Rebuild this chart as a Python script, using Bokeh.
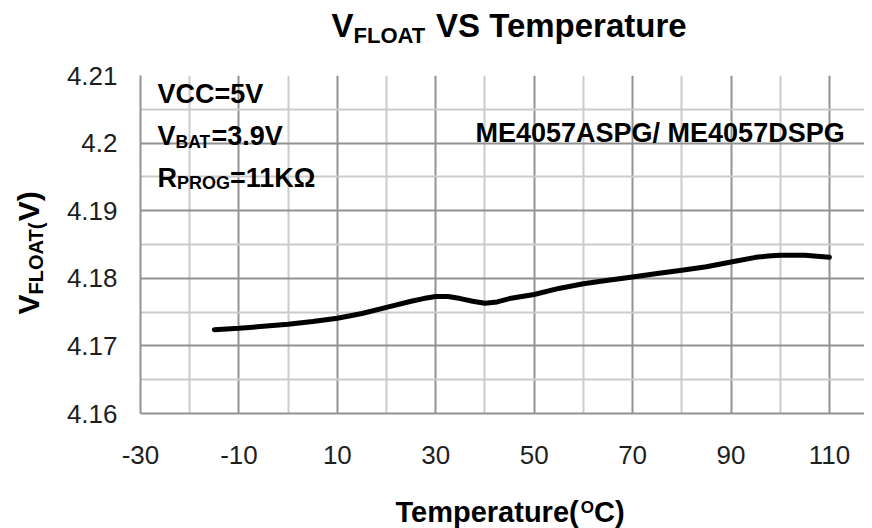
import math
from bokeh.plotting import figure
from bokeh.models import Range1d, FixedTicker, PrintfTickFormatter, Label
from bokeh.layouts import row, column
from bokeh.embed import file_html
from bokeh.resources import INLINE

# ---- data ----
temperature = [-15, -10, -5, 0, 5, 10, 15, 20, 25, 27.5, 30, 32.5, 35, 37.5, 40,
               42.5, 45, 50, 55, 60, 65, 70, 75, 80, 85, 90, 95, 97.5, 100,
               105, 110]
v_float = [4.1724, 4.1726, 4.1729, 4.1732, 4.1736, 4.1741, 4.1748, 4.1757,
           4.1766, 4.1770, 4.1773, 4.1773, 4.1770, 4.1766, 4.1763,
           4.1765, 4.1770, 4.1776, 4.1785, 4.1792, 4.1797, 4.1802, 4.1807,
           4.1812, 4.1817, 4.1824, 4.1831, 4.1833, 4.1834, 4.1834, 4.1831]
x_major = [-30, -10, 10, 30, 50, 70, 90, 110]
x_minor = [-20, 0, 20, 40, 60, 80, 100, 120]
y_major = [4.16, 4.17, 4.18, 4.19, 4.20, 4.21]
y_minor = [4.165, 4.175, 4.185, 4.195, 4.205]

# ---- layout (page pixels) ----
TOTAL_W, TOTAL_H = 864, 528
YL_W = 60                 # y-label strip on the left
TITLE_H = 60              # title strip on top
XL_H = 45                 # x-label strip at the bottom
MAIN_W = TOTAL_W - YL_W
MAIN_H = TOTAL_H - TITLE_H - XL_H
FRAME_LEFT, FRAME_TOP = 140, 75     # page coords of the plot frame
FL = FRAME_LEFT - YL_W
FT = FRAME_TOP - TITLE_H
FW, FH = MAIN_W - FL, 338
PX_PER_X = 4.921
X0 = -30.0
X1 = X0 + FW / PX_PER_X
Y0, Y1 = 4.16, 4.21

common = dict(output_backend="svg", toolbar_location=None)

p = figure(width=MAIN_W, height=MAIN_H, x_range=Range1d(X0, X1), y_range=Range1d(Y0, Y1),
           min_border_left=FL, min_border_top=FT, min_border_right=0,
           min_border_bottom=MAIN_H - FT - FH, frame_width=FW, frame_height=FH, **common)
p.outline_line_color = None
p.background_fill_color = "white"
p.border_fill_color = "white"

MAJ_C, MIN_C = "#929292", "#cbcbcb"
p.xgrid.ticker = FixedTicker(ticks=x_major, minor_ticks=x_minor)
p.ygrid.ticker = FixedTicker(ticks=y_major, minor_ticks=y_minor)
for g in (p.xgrid, p.ygrid):
    g.grid_line_color = MAJ_C
    g.grid_line_width = 2
    g.minor_grid_line_color = MIN_C
    g.minor_grid_line_width = 2

p.xaxis.ticker = FixedTicker(ticks=x_major)
p.yaxis.ticker = FixedTicker(ticks=y_major)
p.xaxis.formatter = PrintfTickFormatter(format="%d")
p.yaxis.formatter = PrintfTickFormatter(format="%g")
for ax in (p.xaxis[0], p.yaxis[0]):
    ax.axis_line_color = MAJ_C
    ax.axis_line_width = 2
    ax.major_tick_line_color = None
    ax.minor_tick_line_color = None
    ax.major_tick_out = 0
    ax.major_tick_in = 0
    ax.minor_tick_out = 0
    ax.minor_tick_in = 0
    ax.major_label_text_font = "Liberation Sans"
    ax.major_label_text_font_size = "26px"
    ax.major_label_text_color = "#1e1e1e"
p.yaxis.major_label_standoff = 23
p.xaxis.major_label_standoff = 32

p.line(temperature, v_float, line_width=5, line_color="black",
       line_join="round", line_cap="round")


def strip(w, h, left_border, left_page, top_page):
    """Text-only figure whose data coordinates are page pixels (y downward)."""
    fw = w - left_border
    f = figure(width=w, height=h, frame_width=fw, frame_height=h,
               x_range=Range1d(left_page + left_border, left_page + w),
               y_range=Range1d(top_page + h, top_page),
               x_axis_type=None, y_axis_type=None,
               min_border_left=left_border, min_border_right=0,
               min_border_top=0, min_border_bottom=0, **common)
    f.outline_line_color = None
    f.background_fill_color = "white"
    f.border_fill_color = "white"
    return f


title_fig = strip(MAIN_W, TITLE_H, FL, YL_W, 0)
xlab_fig = strip(MAIN_W, XL_H, FL, YL_W, TITLE_H + MAIN_H)
ylab_fig = strip(YL_W, TOTAL_H, 0, 0, 0)

# ---- text helpers (Arial/Liberation Sans Bold advance widths) ----
W = {' ': 278, '(': 333, ')': 333, '.': 278, '/': 278, '=': 584,
     'A': 722, 'B': 722, 'C': 722, 'D': 722, 'E': 667, 'F': 611, 'G': 778,
     'K': 722, 'L': 611, 'M': 833, 'O': 778, 'P': 667, 'R': 722, 'S': 667,
     'T': 611, 'V': 667, 'a': 556, 'e': 556, 'm': 889, 'p': 611, 'r': 389,
     't': 333, 'u': 611, 'Ω': 768}
for d in "0123456789":
    W[d] = 556

BASE_FIX = 0.35   # rendered alphabetic baseline sits this many em lower


def tw(s, size):
    return sum(W.get(c, 600) for c in s) * size / 1000.0


def to_main(px, py):
    return (X0 + (px - FRAME_LEFT) / PX_PER_X, Y1 - (py - FRAME_TOP) * (Y1 - Y0) / FH)


def ident(px, py):
    return (px, py)


def run(fig, mapper, parts, px, py, angle=0.0, color="black"):
    """parts: (text, size, baseline shift in px, downward)."""
    cur = 0.0
    for text, size, shift in parts:
        lead = len(text) - len(text.lstrip(" "))
        cur += tw(" " * lead, size)
        text = text.lstrip(" ")
        off = shift - BASE_FIX * size
        if angle == 0:
            x, y = px + cur, py + off
        else:  # rotated 90 deg CCW, reading upward
            x, y = px + off, py - cur
        dx, dy = mapper(x, y)
        fig.add_layout(Label(x=dx, y=dy, text=text, angle=angle,
                             text_font="Liberation Sans", text_font_style="bold",
                             text_font_size=f"{size}px", text_color=color,
                             text_align="left", text_baseline="alphabetic"))
        cur += tw(text, size)


# title
run(title_fig, ident,
    [("V", 33, 0), ("FLOAT", 22, 6), (" VS Temperature", 33, 0)], 331, 37)
# x-axis title
run(xlab_fig, ident,
    [("Temperature(", 29, 0), ("O", 17, -9), ("C)", 29, 0)], 395, 522)
# y-axis title (rotated)
run(ylab_fig, ident,
    [("V", 30, 0), ("FLOAT(", 20, 4), ("V)", 30, 0)], 38, 314, angle=math.pi / 2)
# annotations inside plot
run(p, to_main, [("VCC=5V", 27, 0)], 157, 103)
run(p, to_main, [("V", 27, 0), ("BAT", 17.5, 2.5), ("=3.9V", 27, 0)], 157, 145)
run(p, to_main, [("R", 27, 0), ("PROG", 18, 2), ("=11KΩ", 27, 0)], 157, 187)
run(p, to_main, [("ME4057ASPG/ ME4057DSPG", 27, 0)], 475, 142)

layout = row(ylab_fig, column(title_fig, p, xlab_fig, spacing=0), spacing=0)

open("out.html", "w").write(file_html(layout, INLINE))
